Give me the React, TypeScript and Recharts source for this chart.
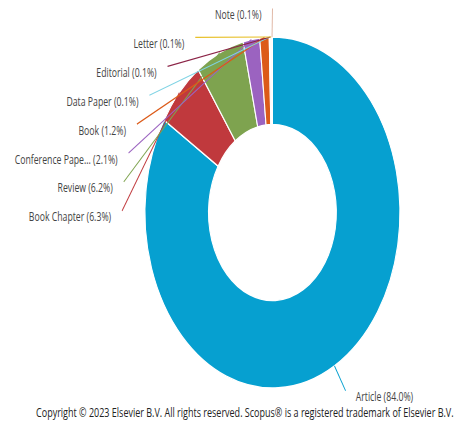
import React from "react";
import { PieChart, Pie, Cell } from "recharts";

const docTypes = [
    "Article",
    "Book Chapter",
    "Review",
    "Conference Pape...",
    "Book",
    "Data Paper",
    "Editorial",
    "Letter",
    "Note",
];
const shares = [84.0, 6.3, 6.2, 2.1, 1.2, 0.1, 0.1, 0.1, 0.1];
const sliceColors = [
    "#06a0d0",
    "#c0393d",
    "#7ea34f",
    "#9b63c0",
    "#dc5a18",
    "#7fd3e4",
    "#8b2346",
    "#e8c12c",
    "#dcae9a",
];

const data = docTypes.map((name, i) => ({ name, value: shares[i] }));

// the reference is squeezed sideways, so draw wide and scale x back down
const SQUEEZE = 0.7265;
const W = 632;
const H = 425;
// recharts adds its 5px margin to cx/cy
const CX = 370;
const CY = 207.5;
const LABEL_RX = 207;
const LABEL_RY = 204;
const LABEL_STEP = 28.9;
const RAD = Math.PI / 180;

const renderLabel = (props: any) => {
    const { cx, cy, midAngle, outerRadius, index, name, value, fill } = props;
    const ca = Math.cos(-midAngle * RAD);
    const sa = Math.sin(-midAngle * RAD);
    const sx = cx + outerRadius * ca;
    const sy = cy + outerRadius * sa;
    let ex: number;
    let ey: number;
    let left: boolean;
    if (index === 0) {
        ex = cx + LABEL_RX * ca;
        ey = cy + LABEL_RY * sa;
        left = ca < 0;
    } else {
        // small slices near the top get stacked down the left side
        const k = data.length - 1 - index;
        ey = cy - LABEL_RY + k * LABEL_STEP;
        const dy = (ey - cy) / LABEL_RY;
        ex = cx - LABEL_RX * Math.sqrt(Math.max(0, 1 - dy * dy));
        left = true;
    }
    const tx = left ? ex - 15 : ex + 14;
    return (
        <g key={`lbl-${index}`}>
            <path
                d={`M${sx},${sy}L${ex},${ey}`}
                stroke={fill}
                strokeWidth={1.2}
                fill="none"
            />
            <text
                x={tx}
                y={ey + 6}
                textAnchor={left ? "end" : "start"}
                dominantBaseline="central"
                fontFamily="'Open Sans', sans-serif"
                fontSize={12}
                fill="#444"
            >
                {`${name} (${value.toFixed(1)}%)`}
            </text>
        </g>
    );
};

export default function App() {
    return (
        <div
            style={{
                position: "absolute",
                left: 0,
                top: 0,
                width: 459,
                height: H,
                overflow: "hidden",
                background: "#fff",
            }}
        >
            <div
                style={{
                    position: "relative",
                    width: W,
                    height: H,
                    transform: `scaleX(${SQUEEZE})`,
                    transformOrigin: "0 0",
                }}
            >
                <PieChart width={W} height={H}>
                    <Pie
                        data={data}
                        dataKey="value"
                        nameKey="name"
                        cx={CX}
                        cy={CY}
                        innerRadius={88}
                        outerRadius={175.5}
                        startAngle={90}
                        endAngle={-270}
                        stroke="#fff"
                        strokeWidth={1.5}
                        label={renderLabel}
                        labelLine={false}
                        isAnimationActive={false}
                    >
                        {data.map((d, i) => (
                            <Cell key={d.name} fill={sliceColors[i]} />
                        ))}
                    </Pie>
                </PieChart>
                <div
                    style={{
                        position: "absolute",
                        left: 0,
                        top: 404,
                        width: 674,
                        textAlign: "center",
                        fontFamily: "'Open Sans', sans-serif",
                        fontSize: 12.4,
                        color: "#222",
                        whiteSpace: "nowrap",
                    }}
                >
                    Copyright © 2023 Elsevier B.V. All rights reserved. Scopus® is a registered trademark of Elsevier B.V.
                </div>
            </div>
        </div>
    );
}
